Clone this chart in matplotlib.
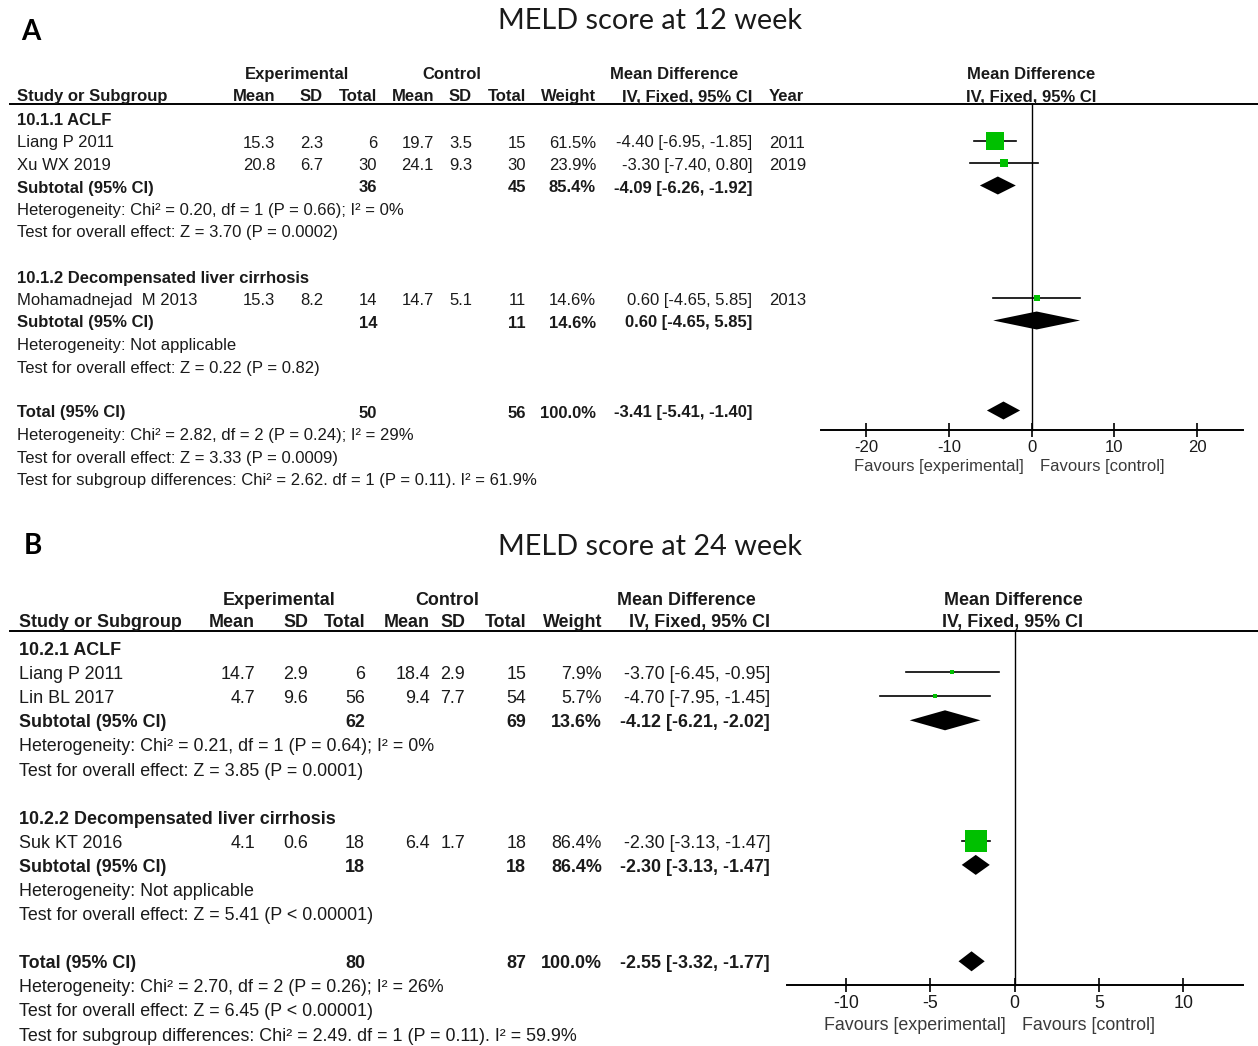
import matplotlib.pyplot as plt
from matplotlib.patches import Polygon

plt.rcParams['font.family'] = ['Liberation Sans', 'DejaVu Sans']

# ---------------- A: MELD score at 12 week ----------------
a_groups = ['10.1.1 ACLF', '10.1.2 Decompensated liver cirrhosis']
a_studies = [['Liang P 2011', 'Xu WX 2019'], ['Mohamadnejad  M 2013']]
a_exp_mean = [[15.3, 20.8], [15.3]]
a_exp_sd = [[2.3, 6.7], [8.2]]
a_exp_n = [[6, 30], [14]]
a_ctl_mean = [[19.7, 24.1], [14.7]]
a_ctl_sd = [[3.5, 9.3], [5.1]]
a_ctl_n = [[15, 30], [11]]
a_weight = [[61.5, 23.9], [14.6]]
a_md = [[-4.40, -3.30], [0.60]]
a_lo = [[-6.95, -7.40], [-4.65]]
a_hi = [[-1.85, 0.80], [5.85]]
a_year = [[2011, 2019], [2013]]
a_sub_n = [(36, 45), (14, 11)]
a_sub_weight = [85.4, 14.6]
a_sub_md = [-4.09, 0.60]
a_sub_lo = [-6.26, -4.65]
a_sub_hi = [-1.92, 5.85]
a_sub_notes = [['Heterogeneity: Chi² = 0.20, df = 1 (P = 0.66); I² = 0%',
                'Test for overall effect: Z = 3.70 (P = 0.0002)'],
               ['Heterogeneity: Not applicable',
                'Test for overall effect: Z = 0.22 (P = 0.82)']]
a_total_n = (50, 56)
a_total = (-3.41, -5.41, -1.40)
a_total_notes = ['Heterogeneity: Chi² = 2.82, df = 2 (P = 0.24); I² = 29%',
                 'Test for overall effect: Z = 3.33 (P = 0.0009)',
                 'Test for subgroup differences: Chi² = 2.62. df = 1 (P = 0.11). I² = 61.9%']
a_ticks = [-20, -10, 0, 10, 20]

# ---------------- B: MELD score at 24 week ----------------
b_groups = ['10.2.1 ACLF', '10.2.2 Decompensated liver cirrhosis']
b_studies = [['Liang P 2011', 'Lin BL 2017'], ['Suk KT 2016']]
b_exp_mean = [[14.7, 4.7], [4.1]]
b_exp_sd = [[2.9, 9.6], [0.6]]
b_exp_n = [[6, 56], [18]]
b_ctl_mean = [[18.4, 9.4], [6.4]]
b_ctl_sd = [[2.9, 7.7], [1.7]]
b_ctl_n = [[15, 54], [18]]
b_weight = [[7.9, 5.7], [86.4]]
b_md = [[-3.70, -4.70], [-2.30]]
b_lo = [[-6.45, -7.95], [-3.13]]
b_hi = [[-0.95, -1.45], [-1.47]]
b_sub_n = [(62, 69), (18, 18)]
b_sub_weight = [13.6, 86.4]
b_sub_md = [-4.12, -2.30]
b_sub_lo = [-6.21, -3.13]
b_sub_hi = [-2.02, -1.47]
b_sub_notes = [['Heterogeneity: Chi² = 0.21, df = 1 (P = 0.64); I² = 0%',
                'Test for overall effect: Z = 3.85 (P = 0.0001)'],
               ['Heterogeneity: Not applicable',
                'Test for overall effect: Z = 5.41 (P < 0.00001)']]
b_total_n = (80, 87)
b_total = (-2.55, -3.32, -1.77)
b_total_notes = ['Heterogeneity: Chi² = 2.70, df = 2 (P = 0.26); I² = 26%',
                 'Test for overall effect: Z = 6.45 (P < 0.00001)',
                 'Test for subgroup differences: Chi² = 2.49. df = 1 (P = 0.11). I² = 59.9%']
b_ticks = [-10, -5, 0, 5, 10]

W, H = 1258, 1046
GREEN = '#00c000'
INK = '#1a1a1a'

fig = plt.figure(figsize=(W / 100, H / 100), dpi=100)
bg = fig.add_axes([0, 0, 1, 1])
bg.set_xlim(0, W)
bg.set_ylim(H, 0)
bg.axis('off')


def fmt_ci(m, l, h):
    return f'{m:.2f} [{l:.2f}, {h:.2f}]'


def draw_panel(d, lay):
    fs = lay['fs']
    cx = lay['cols']

    def txt(x, y, s, ha='left', bold=False, size=fs, color=INK, **kw):
        bg.text(x, y + 2.5, s, ha=ha, va='center', fontsize=size, color=color,
                fontweight='bold' if bold else 'normal', **kw)

    # panel letter and title
    bg.text(lay['letter_xy'][0], lay['letter_xy'][1], d['letter'], ha='left', va='center',
            fontsize=20, fontweight='bold', family='Lato', color='black')
    bg.text(650, lay['title_y'], d['title'], ha='center', va='center',
            fontsize=20.8, family='Lato', color=INK)

    # column headers
    h1, h2 = lay['hdr_y']
    txt(cx['exp_c'], h1, 'Experimental', ha='center', bold=True)
    txt(cx['ctl_c'], h1, 'Control', ha='center', bold=True)
    txt(cx['md_c'], h1, 'Mean Difference', ha='center', bold=True)
    txt(lay['plot_hdr_x'], h1, 'Mean Difference', ha='center', bold=True)
    txt(lay['study_x'], h2, 'Study or Subgroup', bold=True)
    for key, lab in [('mean_e', 'Mean'), ('sd_e', 'SD'), ('n_e', 'Total'),
                     ('mean_c', 'Mean'), ('sd_c', 'SD'), ('n_c', 'Total'),
                     ('w', 'Weight'), ('ci', 'IV, Fixed, 95% CI')]:
        txt(cx[key], h2, lab, ha='right', bold=True)
    if 'year' in d:
        txt(cx['year'], h2, 'Year', bold=True)
    txt(lay['plot_hdr_x'], h2, 'IV, Fixed, 95% CI', ha='center', bold=True)
    bg.plot([10, W], [lay['line_y']] * 2, color='black', lw=1.4)

    # forest plot axes, y in figure pixels so rows line up with the table
    x0, x1 = lay['axis_px']
    top, bot = lay['line_y'], lay['axis_y']
    ax = fig.add_axes([x0 / W, 1 - bot / H, (x1 - x0) / W, (bot - top) / H])
    ax.set_xlim(*lay['xlim'])
    ax.set_ylim(bot, top)
    ax.patch.set_alpha(0)
    for s in ['top', 'left', 'right']:
        ax.spines[s].set_visible(False)
    ax.spines['bottom'].set_linewidth(1.4)
    ax.set_yticks([])
    ax.set_xticks(d['ticks'])
    ax.set_xticklabels([str(t) for t in d['ticks']])
    ax.tick_params(axis='x', direction='inout', length=10, width=1.2,
                   labelsize=fs, pad=2, labelcolor=INK)
    ax.plot([0, 0], [top, bot], color='black', lw=1.0, clip_on=False)

    def diamond(y, m, l, h):
        hh = lay['diam_h'] / 2
        ax.add_patch(Polygon([[l, y], [m, y - hh], [h, y], [m, y + hh]],
                             closed=True, color='black', lw=0))

    y0, step = lay['row0'], lay['step']
    r = 0
    for g, gname in enumerate(d['groups']):
        txt(lay['study_x'], y0 + r * step, gname, bold=True)
        r += 1
        for i, name in enumerate(d['studies'][g]):
            y = y0 + r * step
            txt(lay['study_x'], y, name)
            txt(cx['mean_e'], y, f"{d['exp_mean'][g][i]:.1f}", ha='right')
            txt(cx['sd_e'], y, f"{d['exp_sd'][g][i]:.1f}", ha='right')
            txt(cx['n_e'], y, str(d['exp_n'][g][i]), ha='right')
            txt(cx['mean_c'], y, f"{d['ctl_mean'][g][i]:.1f}", ha='right')
            txt(cx['sd_c'], y, f"{d['ctl_sd'][g][i]:.1f}", ha='right')
            txt(cx['n_c'], y, str(d['ctl_n'][g][i]), ha='right')
            w = d['weight'][g][i]
            txt(cx['w'], y, f'{w:.1f}%', ha='right')
            m, l, h = d['md'][g][i], d['lo'][g][i], d['hi'][g][i]
            txt(cx['ci'], y, fmt_ci(m, l, h), ha='right')
            if 'year' in d:
                txt(cx['year'], y, str(d['year'][g][i]))
            ax.plot([l, h], [y, y], color='black', lw=1.2)
            # box side grows with study weight, with a floor so tiny weights stay visible
            side = max(0.8 * w ** 0.75, 4.5)
            ax.plot([m], [y], marker='s', ms=side * 0.72, color=GREEN,
                    mec=GREEN, mew=0)
            r += 1
        y = y0 + r * step
        txt(lay['study_x'], y, 'Subtotal (95% CI)', bold=True)
        txt(cx['n_e'], y, str(d['sub_n'][g][0]), ha='right', bold=True)
        txt(cx['n_c'], y, str(d['sub_n'][g][1]), ha='right', bold=True)
        txt(cx['w'], y, f"{d['sub_weight'][g]:.1f}%", ha='right', bold=True)
        txt(cx['ci'], y, fmt_ci(d['sub_md'][g], d['sub_lo'][g], d['sub_hi'][g]),
            ha='right', bold=True)
        diamond(y, d['sub_md'][g], d['sub_lo'][g], d['sub_hi'][g])
        r += 1
        for note in d['sub_notes'][g]:
            txt(lay['study_x'], y0 + r * step, note)
            r += 1
        r += 1

    y = y0 + r * step
    txt(lay['study_x'], y, 'Total (95% CI)', bold=True)
    txt(cx['n_e'], y, str(d['total_n'][0]), ha='right', bold=True)
    txt(cx['n_c'], y, str(d['total_n'][1]), ha='right', bold=True)
    txt(cx['w'], y, '100.0%', ha='right', bold=True)
    txt(cx['ci'], y, fmt_ci(*d['total']), ha='right', bold=True)
    diamond(y, *d['total'])
    r += 1
    for note in d['total_notes']:
        txt(lay['study_x'], y0 + r * step, note)
        r += 1

    fx, fy = lay['fav']
    txt(fx - 8, fy - 2.5, 'Favours [experimental]', ha='right', color='#3a3a3a')
    txt(fx + 8, fy - 2.5, 'Favours [control]', color='#3a3a3a')


panel_a = dict(letter='A', title='MELD score at 12 week', groups=a_groups,
               studies=a_studies, exp_mean=a_exp_mean, exp_sd=a_exp_sd,
               exp_n=a_exp_n, ctl_mean=a_ctl_mean, ctl_sd=a_ctl_sd,
               ctl_n=a_ctl_n, weight=a_weight, md=a_md, lo=a_lo, hi=a_hi,
               year=a_year, sub_n=a_sub_n, sub_weight=a_sub_weight,
               sub_md=a_sub_md, sub_lo=a_sub_lo, sub_hi=a_sub_hi,
               sub_notes=a_sub_notes, total_n=a_total_n, total=a_total,
               total_notes=a_total_notes, ticks=a_ticks)
panel_b = dict(letter='B', title='MELD score at 24 week', groups=b_groups,
               studies=b_studies, exp_mean=b_exp_mean, exp_sd=b_exp_sd,
               exp_n=b_exp_n, ctl_mean=b_ctl_mean, ctl_sd=b_ctl_sd,
               ctl_n=b_ctl_n, weight=b_weight, md=b_md, lo=b_lo, hi=b_hi,
               sub_n=b_sub_n, sub_weight=b_sub_weight,
               sub_md=b_sub_md, sub_lo=b_sub_lo, sub_hi=b_sub_hi,
               sub_notes=b_sub_notes, total_n=b_total_n, total=b_total,
               total_notes=b_total_notes, ticks=b_ticks)

layout_a = dict(fs=12.0, letter_xy=(21, 32), title_y=21, hdr_y=(72, 94),
                line_y=104, axis_y=430, axis_px=(820.6, 1242.8), xlim=(-25.5, 25.5),
                plot_hdr_x=1031, study_x=17, row0=118, step=22.5, diam_h=18,
                fav=(1032, 467),
                cols=dict(exp_c=297, ctl_c=452, md_c=674, mean_e=275, sd_e=323,
                          n_e=377, mean_c=434, sd_c=472, n_c=526, w=596,
                          ci=752, year=769))
layout_b = dict(fs=12.9, letter_xy=(24, 546), title_y=547, hdr_y=(598, 620),
                line_y=631, axis_y=985, axis_px=(786.6, 1242.6), xlim=(-13.5, 13.5),
                plot_hdr_x=1013, study_x=19, row0=648, step=24.1, diam_h=20,
                fav=(1014, 1025),
                cols=dict(exp_c=279, ctl_c=447, md_c=686, mean_e=255, sd_e=308,
                          n_e=365, mean_c=430, sd_c=465, n_c=526, w=602,
                          ci=770))

draw_panel(panel_a, layout_a)
draw_panel(panel_b, layout_b)

fig.savefig('out.png', dpi=100, facecolor='white')
